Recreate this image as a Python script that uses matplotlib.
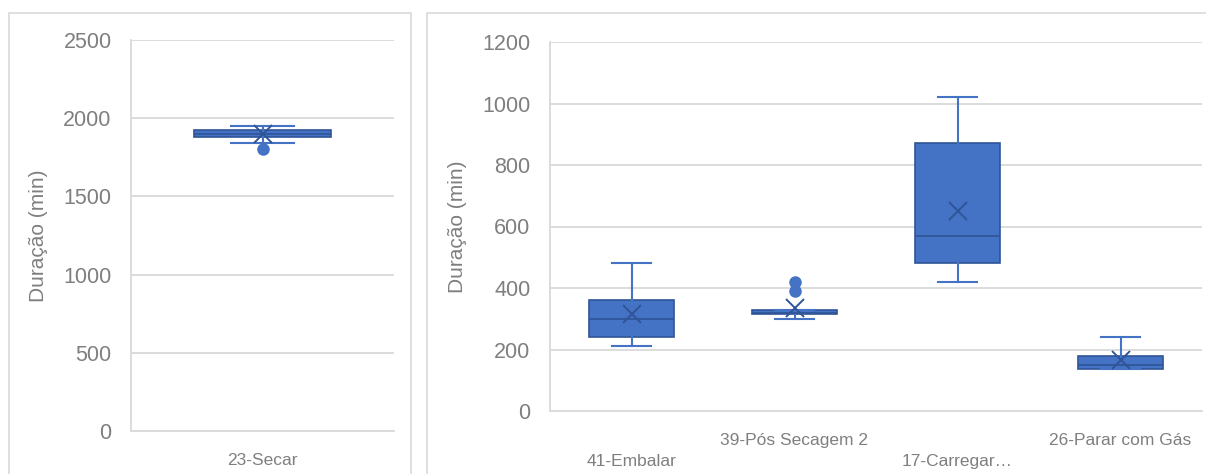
import matplotlib.pyplot as plt
from matplotlib.patches import Rectangle

plt.rcParams['font.family'] = ['Liberation Sans', 'DejaVu Sans']

# Box plot summaries (minutes)
left_cats = ["23-Secar"]
left_q1 = [1880]
left_med = [1900]
left_q3 = [1925]
left_lo = [1840]
left_hi = [1950]
left_mean = [1900]
left_fliers = [[1805]]

right_cats = ["41-Embalar", "39-Pós Secagem 2", "17-Carregar…", "26-Parar com Gás"]
right_q1 = [240, 315, 480, 135]
right_med = [300, 320, 570, 150]
right_q3 = [360, 330, 870, 180]
right_lo = [210, 300, 420, 135]
right_hi = [480, 330, 1020, 240]
right_mean = [315, 335, 650, 165]
right_fliers = [[], [390, 420], [], []]

FILL = "#4472C4"
EDGE = "#2F5597"
GRID = "#d9d9d9"
TXT = "#7f7f7f"


def make_stats(cats, q1, med, q3, lo, hi, mean, fliers):
    stats = []
    for i in range(len(cats)):
        stats.append(dict(label=cats[i], q1=q1[i], med=med[i], q3=q3[i],
                          whislo=lo[i], whishi=hi[i], mean=mean[i],
                          fliers=fliers[i]))
    return stats


def draw(ax, stats, ymax, step):
    ax.bxp(stats, positions=range(len(stats)), widths=0.52, patch_artist=True,
           showmeans=True,
           boxprops=dict(facecolor=FILL, edgecolor=EDGE, linewidth=1.2),
           medianprops=dict(color=EDGE, linewidth=1.2),
           whiskerprops=dict(color=FILL, linewidth=1.5),
           capprops=dict(color=FILL, linewidth=1.5),
           capwidths=0.24,
           meanprops=dict(marker="x", markeredgecolor=EDGE, markersize=13,
                          markeredgewidth=1.4),
           flierprops=dict(marker="o", markerfacecolor=FILL,
                           markeredgecolor=FILL, markersize=8))
    ax.set_xlim(-0.5, len(stats) - 0.5)
    ax.set_ylim(0, ymax)
    ax.set_yticks(range(0, ymax + 1, step))
    ax.yaxis.grid(True, color=GRID, linewidth=1.3)
    ax.set_axisbelow(True)
    for s in ["top", "right"]:
        ax.spines[s].set_visible(False)
    ax.spines["left"].set_color(GRID)
    ax.spines["bottom"].set_color(GRID)
    ax.spines["left"].set_linewidth(1.3)
    ax.spines["bottom"].set_linewidth(1.3)
    ax.tick_params(axis="y", length=0, pad=14, labelsize=15.5, labelcolor=TXT)
    ax.tick_params(axis="x", length=0, pad=16, labelsize=12.5, labelcolor=TXT)
    ax.set_ylabel("Duração (min)", fontsize=15, color=TXT)


fig = plt.figure(figsize=(12.06, 4.74), dpi=100)
W, H = 1206, 474

# chart area borders
fig.patches.append(Rectangle((9 / W, -0.1), 402 / W, (474 - 13) / H + 0.1,
                             transform=fig.transFigure, fill=False,
                             edgecolor=GRID, linewidth=1.2))
fig.patches.append(Rectangle((427 / W, -0.1), 800 / W, (474 - 13) / H + 0.1,
                             transform=fig.transFigure, fill=False,
                             edgecolor=GRID, linewidth=1.2))

ax1 = fig.add_axes([131 / W, 43 / H, 263 / W, 391 / H])
draw(ax1, make_stats(left_cats, left_q1, left_med, left_q3, left_lo, left_hi,
                     left_mean, left_fliers), 2500, 500)
ax1.yaxis.set_label_coords(-0.316, 0.5)

ax2 = fig.add_axes([550 / W, 63 / H, 652 / W, 369 / H])
draw(ax2, make_stats(right_cats, right_q1, right_med, right_q3, right_lo,
                     right_hi, right_mean, right_fliers), 1200, 200)
ax2.set_xticks(range(len(right_cats)))
ax2.set_xticklabels([("\n" + c) if i % 2 == 0 else c
                     for i, c in enumerate(right_cats)], linespacing=1.45)
ax2.yaxis.set_label_coords(-0.127, 0.5)

fig.savefig("out.png", dpi=100)
